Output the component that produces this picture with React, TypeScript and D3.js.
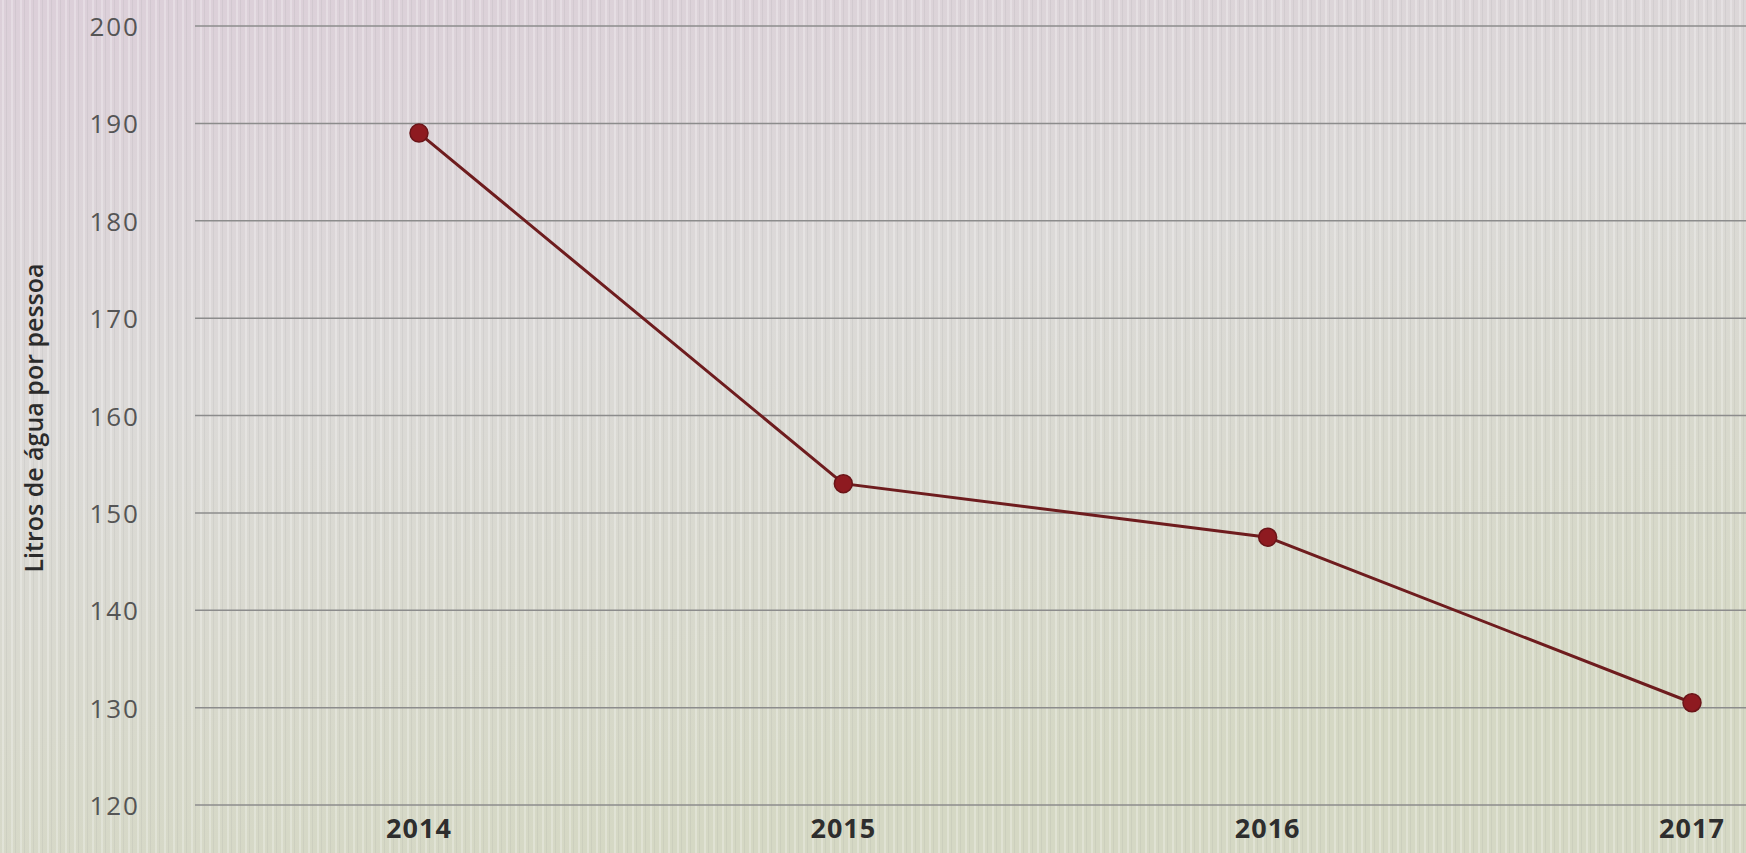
import * as d3 from "d3";
import { useEffect, useRef } from "react";

const years = ["2014", "2015", "2016", "2017"];
const litros = [189, 153, 147.5, 130.5];
const yTicks = [120, 130, 140, 150, 160, 170, 180, 190, 200];
const yTitle = "Litros de água por pessoa";

const width = 1746;
const height = 853;

function App() {
  const ref = useRef<SVGSVGElement>(null);

  useEffect(() => {
    const svg = d3.select(ref.current);
    svg.selectAll("*").remove();

    const margin = { top: 26, bottom: 48, left: 195, right: 0 };

    // background: photo-like tint, pink at top, greenish at bottom
    const defs = svg.append("defs");
    const grad = defs
      .append("linearGradient")
      .attr("id", "bg")
      .attr("x1", "0")
      .attr("y1", "0")
      .attr("x2", "0.35")
      .attr("y2", "1");
    grad.append("stop").attr("offset", "0").attr("stop-color", "#dccfd9");
    grad.append("stop").attr("offset", "0.45").attr("stop-color", "#dcdad8");
    grad.append("stop").attr("offset", "1").attr("stop-color", "#d5d8c4");

    const pat = defs
      .append("pattern")
      .attr("id", "stripes")
      .attr("width", 9)
      .attr("height", 9)
      .attr("patternUnits", "userSpaceOnUse");
    pat.append("rect").attr("x", 2).attr("width", 2).attr("height", 9).attr("fill", "#ffffff").attr("opacity", 0.25);
    pat.append("rect").attr("x", 6).attr("width", 1).attr("height", 9).attr("fill", "#8d8d8d").attr("opacity", 0.12);

    svg.append("rect").attr("width", width).attr("height", height).attr("fill", "url(#bg)");
    svg.append("rect").attr("width", width).attr("height", height).attr("fill", "url(#stripes)");

    const x = d3
      .scalePoint<string>()
      .domain(years)
      .range([419, 1692]);

    const y = d3
      .scaleLinear()
      .domain([120, 200])
      .range([height - margin.bottom, margin.top]);

    // gridlines
    svg.append("g")
      .selectAll("line")
      .data(yTicks)
      .join("line")
      .attr("x1", margin.left)
      .attr("x2", width - margin.right)
      .attr("y1", (d) => y(d))
      .attr("y2", (d) => y(d))
      .attr("stroke", "#8c8c8c")
      .attr("stroke-width", 1.5);

    // y tick labels
    svg.append("g")
      .selectAll("text")
      .data(yTicks)
      .join("text")
      .attr("x", 140)
      .attr("y", (d) => y(d))
      .attr("text-anchor", "end")
      .attr("dominant-baseline", "central")
      .attr("font-family", "Open Sans")
      .attr("font-size", 26)
      .attr("letter-spacing", 2)
      .attr("fill", "#555")
      .text((d) => d);

    // x labels
    svg.append("g")
      .selectAll("text")
      .data(years)
      .join("text")
      .attr("x", (d) => x(d)!)
      .attr("y", 838)
      .attr("text-anchor", "middle")
      .attr("font-family", "Open Sans")
      .attr("font-weight", "bold")
      .attr("font-size", 27)
      .attr("letter-spacing", 1)
      .attr("fill", "#2e2e2e")
      .text((d) => d);

    // y title
    svg.append("text")
      .attr("transform", `translate(33,418) rotate(-90)`)
      .attr("text-anchor", "middle")
      .attr("dominant-baseline", "central")
      .attr("font-family", "Open Sans")
      .attr("font-weight", 600)
      .attr("font-size", 25)
      .attr("fill", "#2b2b2b")
      .text(yTitle);

    const line = d3
      .line<number>()
      .x((_, i) => x(years[i])!)
      .y((d) => y(d));

    svg.append("path")
      .datum(litros)
      .attr("fill", "none")
      .attr("stroke", "#6e1c1e")
      .attr("stroke-width", 3)
      .attr("d", line);

    svg.append("g")
      .selectAll("circle")
      .data(litros)
      .join("circle")
      .attr("cx", (_, i) => x(years[i])!)
      .attr("cy", (d) => y(d))
      .attr("r", 9)
      .attr("fill", "#8e1a20")
      .attr("stroke", "#6a1418")
      .attr("stroke-width", 1.5);
  }, []);

  return (
    <svg
      ref={ref}
      width={width}
      height={height}
      style={{ position: "absolute", left: 0, top: 0 }}
    />
  );
}

export default App;
